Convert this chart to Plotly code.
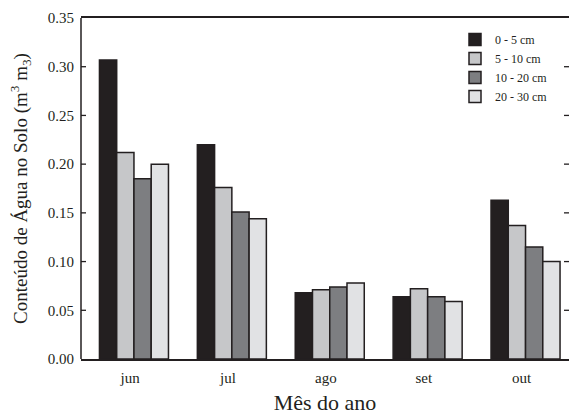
import plotly.graph_objects as go

months = ["jun", "jul", "ago", "set", "out"]
depths = ["0 - 5 cm", "5 - 10 cm", "10 - 20 cm", "20 - 30 cm"]
v_0_5 = [0.307, 0.220, 0.068, 0.064, 0.163]
v_5_10 = [0.212, 0.176, 0.071, 0.072, 0.137]
v_10_20 = [0.185, 0.151, 0.074, 0.064, 0.115]
v_20_30 = [0.200, 0.144, 0.078, 0.059, 0.100]
series = [v_0_5, v_5_10, v_10_20, v_20_30]
colors = ["#231f20", "#c6c7c9", "#7d7e81", "#e1e2e4"]
y_ticks = [0.00, 0.05, 0.10, 0.15, 0.20, 0.25, 0.30, 0.35]

xs = list(range(len(months)))
font_family = "Liberation Serif"
ink = "#231f20"

fig = go.Figure()
for name, vals, col in zip(depths, series, colors):
    fig.add_trace(go.Bar(
        x=xs, y=vals, name=name,
        marker=dict(color=col, line=dict(color=ink, width=1.5)),
    ))

# frame: left axis line and inward tick marks on both sides
plot_w = 488
tick_frac = 5 / plot_w
shapes = [dict(type="line", xref="paper", yref="paper", x0=0, x1=0, y0=0, y1=1,
               line=dict(color=ink, width=1.5), layer="above")]
for t in y_ticks[1:-1]:
    shapes.append(dict(type="line", xref="paper", yref="y", x0=0, x1=tick_frac, y0=t, y1=t,
                       line=dict(color=ink, width=1.3), layer="above"))
    shapes.append(dict(type="line", xref="paper", yref="y", x0=1 - tick_frac, x1=1, y0=t, y1=t,
                       line=dict(color=ink, width=1.3), layer="above"))

fig.update_layout(
    width=569, height=415,
    margin=dict(l=81, r=0, t=18, b=56, autoexpand=False),
    paper_bgcolor="white", plot_bgcolor="white",
    barmode="group", bargap=0.295, bargroupgap=0,
    font=dict(family=font_family, color=ink, size=14),
    showlegend=True,
    legend=dict(
        x=(455 - 81) / plot_w, y=1 - (25 - 18) / 341, xanchor="left", yanchor="top",
        font=dict(size=12, family=font_family, color=ink),
        bgcolor="rgba(0,0,0,0)", tracegroupgap=0, itemwidth=30,
    ),
    xaxis=dict(
        range=[-0.541, 4.444],
        tickmode="array", tickvals=[i - 0.04 for i in xs], ticktext=months,
        showline=True, linecolor=ink, linewidth=1.5, mirror=True,
        ticks="", showgrid=False, zeroline=False,
        ticklabelstandoff=4,
        tickfont=dict(size=15),
        title=dict(text="Mês do ano", font=dict(size=22), standoff=15),
        automargin=False,
    ),
    yaxis=dict(
        range=[0, 0.35],
        tickmode="array", tickvals=y_ticks, ticktext=[f"{v:.2f}" for v in y_ticks],
        showline=False, ticks="",
        showgrid=False, zeroline=False,
        tickfont=dict(size=15), ticklabelstandoff=6,
        title=dict(text="Conteúdo de Água no Solo (m<sup>3</sup> m<sub>3</sub>)", font=dict(size=19), standoff=15),
        automargin=False,
    ),
    shapes=shapes,
)

fig.write_html("out.html", config={"displayModeBar": False},
               post_script="document.body.style.margin='0';document.body.style.overflow='hidden';")
